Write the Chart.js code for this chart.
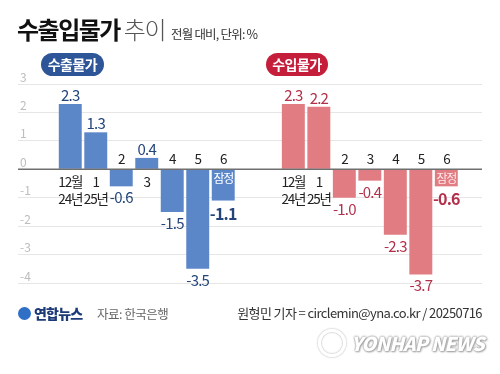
<!DOCTYPE html>
<html>
<head>
<meta charset="utf-8">
<script src="https://cdn.jsdelivr.net/npm/chart.js@4/dist/chart.umd.min.js"></script>
<style>
  html, body { margin: 0; padding: 0; background: #fff; }
  #wrap { position: relative; width: 500px; height: 374px; overflow: hidden; font-family: "Noto Sans CJK KR", "Noto Sans", sans-serif; }
  #chart { position: absolute; left: 0; top: 0; }
  .abs { position: absolute; white-space: nowrap; }
  #title { left: 17px; top: 11px; font-size: 24px; font-weight: 700; color: #111; letter-spacing: -1.5px; }
  #title span { font-weight: 300; color: #555; }
  #unit { left: 171px; top: 24px; font-size: 12.5px; color: #333; letter-spacing: -0.8px; }
  .pill { top: 53px; height: 23px; line-height: 23px; border-radius: 12px; color: #fff; font-size: 14px; font-weight: 700; text-align: center; letter-spacing: -0.5px; }
  #pillEx { left: 41px; width: 63px; background: #2d5597; }
  #pillIm { left: 266px; width: 62px; background: #c41e3a; }
  #logo { left: 18px; top: 303px; font-size: 14px; font-weight: 900; color: #1d3a78; letter-spacing: -0.8px; }
  #logo i { display: inline-block; width: 13px; height: 13px; border-radius: 50%; background: #2f6fc6; vertical-align: -1px; margin-right: 3px; }
  #source { left: 97px; top: 304px; font-size: 12.5px; color: #666; letter-spacing: -0.5px; }
  #credit { right: 18px; top: 303px; font-size: 13px; color: #333; letter-spacing: -0.6px; }
  #wm { left: 318px; top: 329px; font-size: 19px; font-weight: 900; font-style: italic; color: #fff; letter-spacing: -0.8px;
        text-shadow: 0 0 2px #999, 0 0 2px #999, 1px 1px 2px #aaa; }
  #wm b { display: inline-block; width: 22px; height: 22px; border-radius: 50%; border: 3px solid #fff; box-shadow: 0 0 2px #999, inset 0 0 2px #999; vertical-align: -6px; margin-right: 5px; }
</style>
</head>
<body>
<div id="wrap">
  <canvas id="chart" width="500" height="374"></canvas>
  <div class="abs" id="title">수출입물가 <span>추이</span></div>
  <div class="abs" id="unit">전월 대비, 단위: %</div>
  <div class="abs pill" id="pillEx">수출물가</div>
  <div class="abs pill" id="pillIm">수입물가</div>
  <div class="abs" id="logo"><i></i>연합뉴스</div>
  <div class="abs" id="source">자료: 한국은행</div>
  <div class="abs" id="credit">원형민 기자 = circlemin@yna.co.kr / 20250716</div>
  <div class="abs" id="wm"><b></b>YONHAP NEWS</div>
</div>
<script>
// 월별 라벨
var months = ["12월", "1", "2", "3", "4", "5", "6"];
var years = ["24년", "25년", "", "", "", "", ""];
var provisional = [false, false, false, false, false, false, true];

// 전월 대비 등락률(%)
var exportPrices = [2.3, 1.3, -0.6, 0.4, -1.5, -3.5, -1.1];
var importPrices = [2.3, 2.2, -1.0, -0.4, -2.3, -3.7, -0.6];

var yTicks = [3, 2, 1, 0, -1, -2, -3, -4];

var importShift = 8.75; // 두 묶음 사이 간격

function toPoints(values, shift) {
    return values.map(function (v, i) { return { x: i + shift, y: v }; });
}

var FONT = '"Noto Sans CJK KR", "Noto Sans", sans-serif';

var labelPlugin = {
    id: "barLabels",
    afterDatasetsDraw: function (chart) {
        var ctx = chart.ctx;
        var area = chart.chartArea;
        var zeroY = chart.scales.y.getPixelForValue(0);

        // 기준선
        ctx.save();
        ctx.strokeStyle = "#6f6f6f";
        ctx.lineWidth = 1.5;
        ctx.beginPath();
        ctx.moveTo(area.left, zeroY);
        ctx.lineTo(area.right, zeroY);
        ctx.stroke();

        chart.data.datasets.forEach(function (ds, di) {
            var meta = chart.getDatasetMeta(di);
            meta.data.forEach(function (bar, i) {
                var v = ds.data[i].y;
                var last = provisional[i];
                ctx.textAlign = "center";
                ctx.textBaseline = "alphabetic";
                ctx.letterSpacing = "-0.8px";

                // 값 라벨
                ctx.fillStyle = ds.labelColor;
                ctx.font = (last ? "700 16px " : "400 15px ") + FONT;
                var txt = v.toFixed(1);
                if (v >= 0) {
                    ctx.fillText(txt, bar.x, bar.y - 3);
                } else {
                    ctx.fillText(txt, bar.x, bar.y + (last ? 19 : 17));
                }

                // 월 라벨
                ctx.fillStyle = "#222";
                ctx.font = "400 13.5px " + FONT;
                ctx.letterSpacing = "-1.2px";
                if (v >= 0) {
                    ctx.fillText(months[i], bar.x, zeroY + 18);
                    if (years[i]) ctx.fillText(years[i], bar.x, zeroY + 35);
                } else {
                    ctx.fillText(months[i], bar.x, zeroY - 5);
                }

                if (last) {
                    ctx.fillStyle = ds.tagColor;
                    ctx.font = "400 12px " + FONT;
                    ctx.fillText("잠정", bar.x, zeroY + 14);
                }
            });
        });
        ctx.restore();
    }
};

var config = {
    type: "bar",
    data: {
        datasets: [{
            label: "수출물가",
            data: toPoints(exportPrices, 0),
            backgroundColor: "#5b87c9",
            labelColor: "#23457a",
            tagColor: "#ffffff",
            grouped: false
        }, {
            label: "수입물가",
            data: toPoints(importPrices, importShift),
            backgroundColor: "#e17c82",
            labelColor: "#b3304a",
            tagColor: "#fde8ea",
            grouped: false
        }]
    },
    options: {
        responsive: false,
        animation: false,
        barPercentage: 0.9,
        categoryPercentage: 1,
        layout: { padding: { left: 18, right: 18, top: 84, bottom: 91 } },
        plugins: {
            legend: { display: false },
            tooltip: { enabled: false }
        },
        scales: {
            x: {
                type: "linear",
                min: -2.05,
                max: 16.15,
                offset: false,
                display: false
            },
            y: {
                min: -4,
                max: 3,
                afterBuildTicks: function (scale) {
                    scale.ticks = yTicks.map(function (t) { return { value: t }; });
                },
                afterFit: function (scale) { scale.width = 0; },
                border: { display: false },
                grid: {
                    drawTicks: false,
                    color: function (c) { return c.tick.value === 0 ? "rgba(0,0,0,0)" : "#e6e6e6"; }
                },
                ticks: {
                    mirror: true,
                    padding: 2,
                    labelOffset: -7,
                    color: "#bdbdbd",
                    font: { family: FONT, size: 12 }
                }
            }
        }
    },
    plugins: [labelPlugin]
};

var priceChart = new Chart(document.getElementById("chart"), config);
</script>
</body>
</html>
